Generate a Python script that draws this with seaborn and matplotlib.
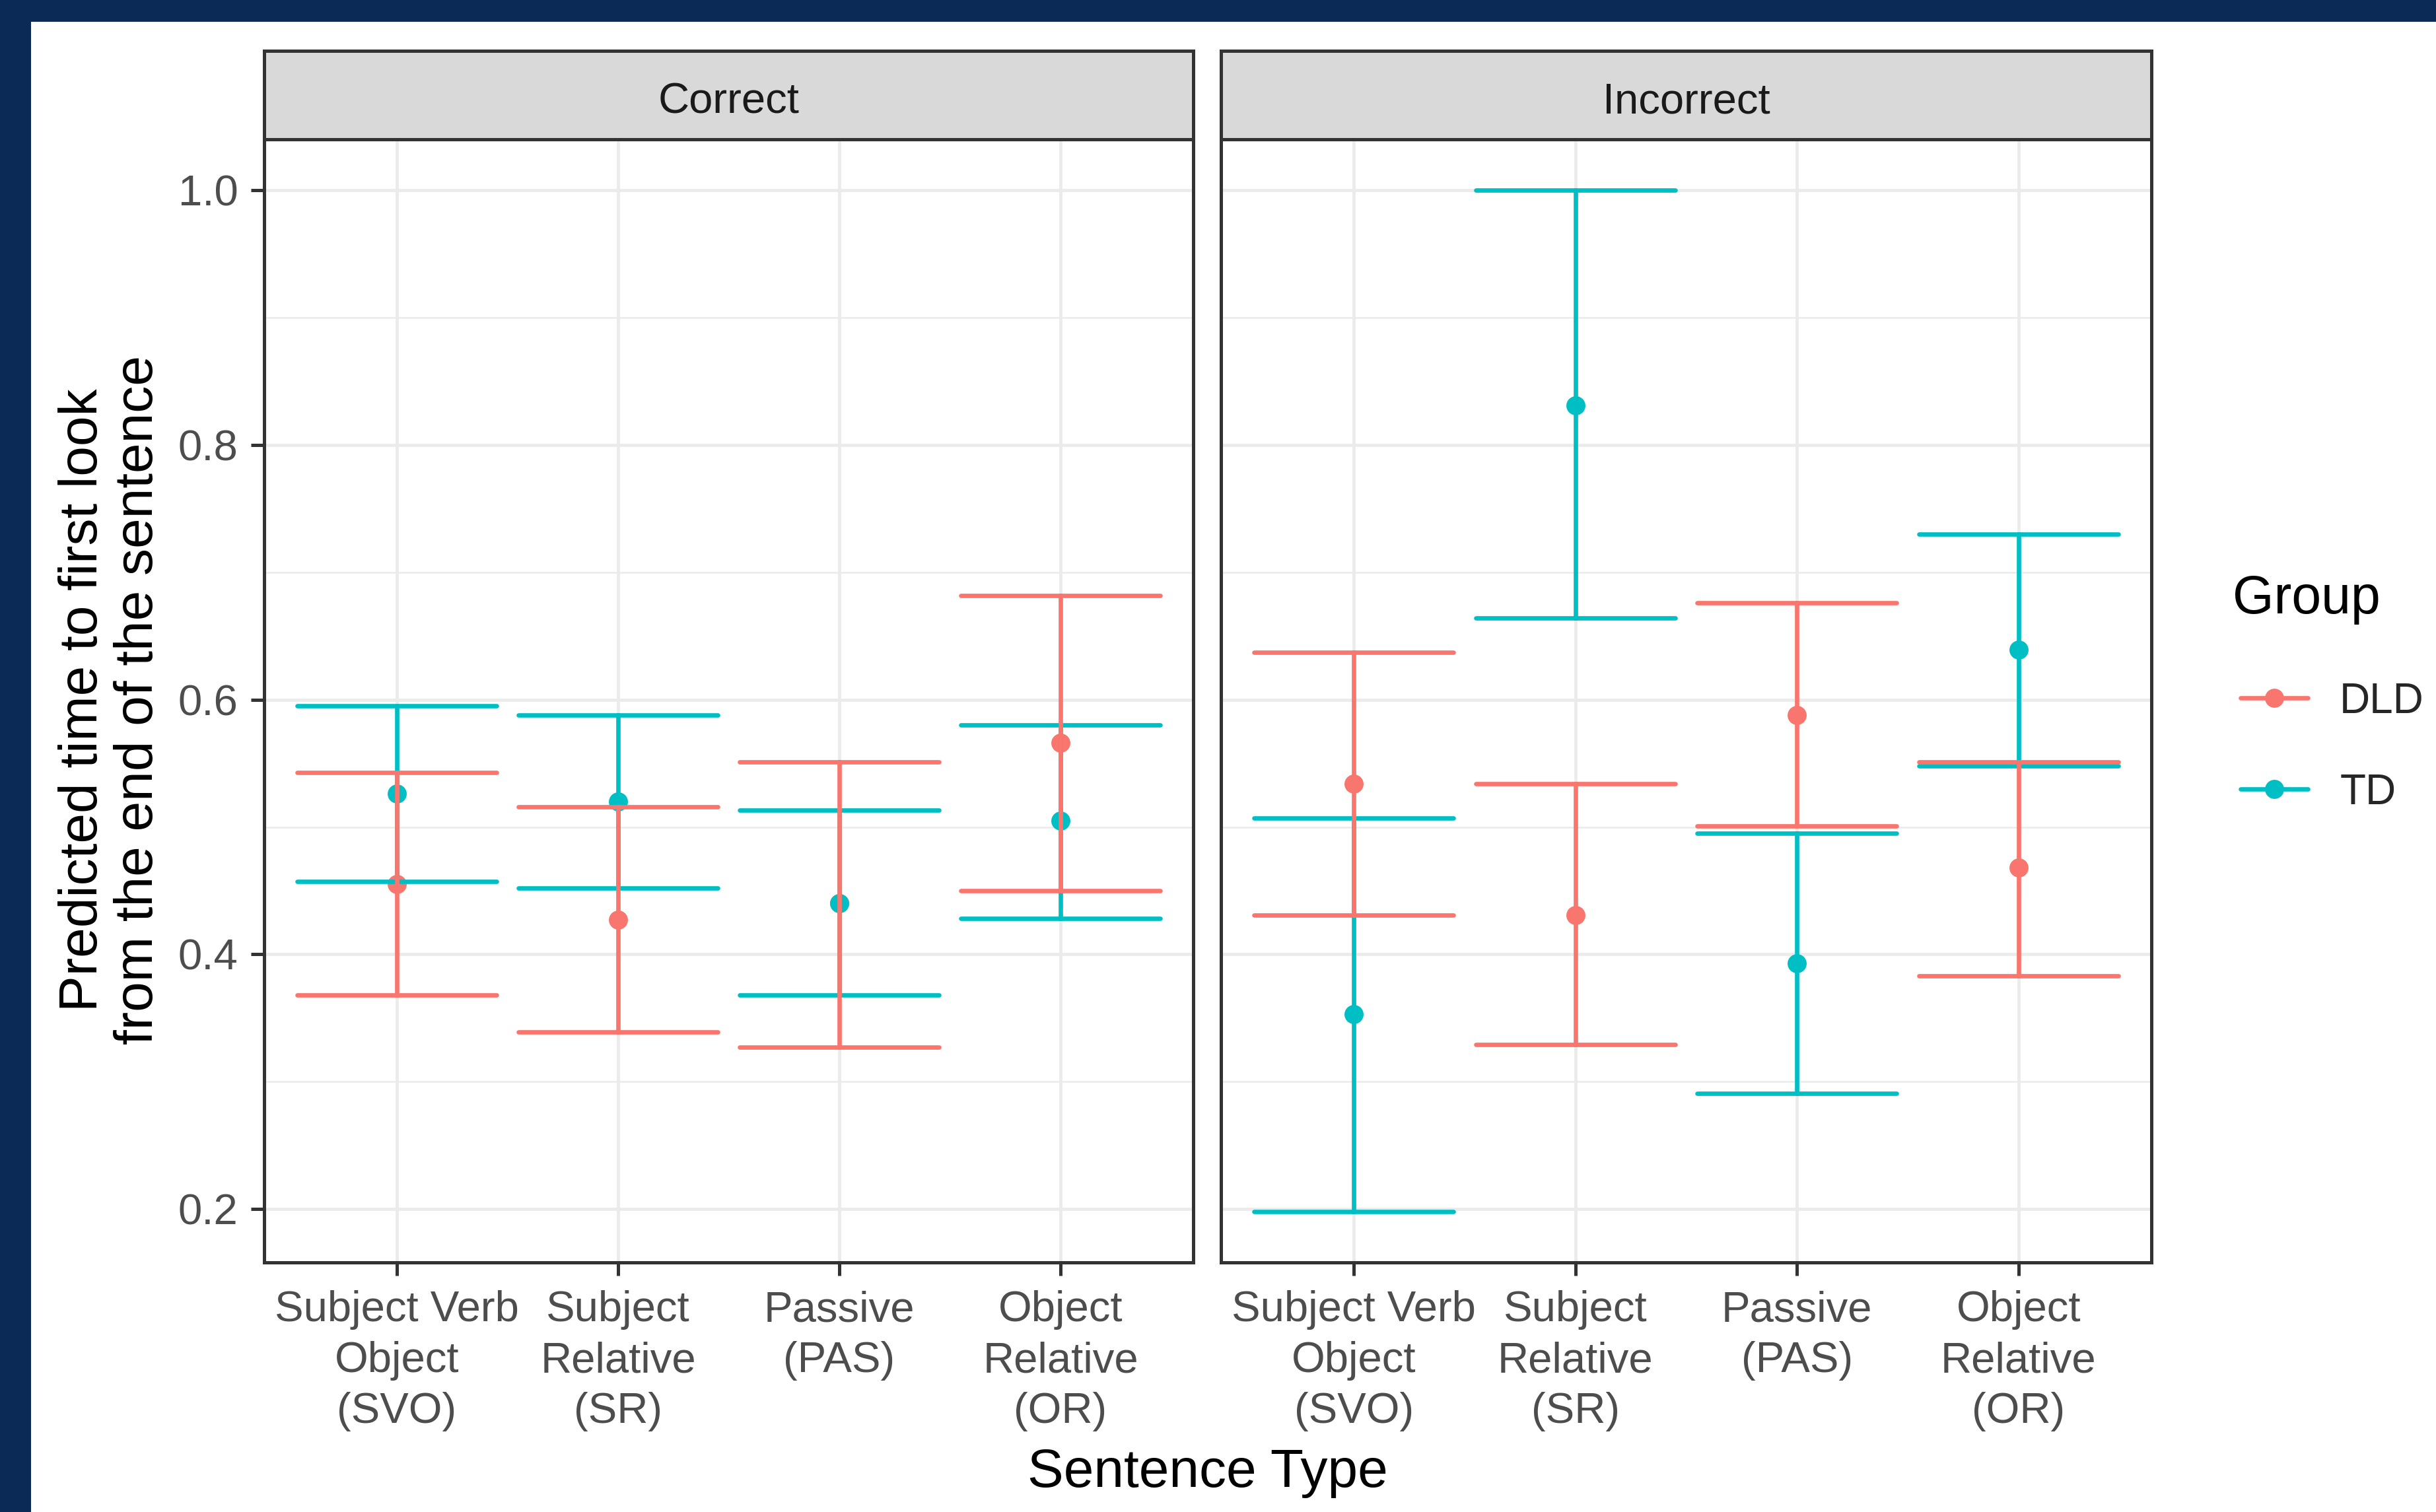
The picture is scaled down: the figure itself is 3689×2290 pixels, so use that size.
import numpy as np
import pandas as pd
import matplotlib
matplotlib.use("Agg")
import matplotlib.pyplot as plt
from matplotlib.lines import Line2D
from matplotlib.patches import Rectangle
import seaborn as sns

# ---------------- data ----------------
sentence_types = ["Subject Verb\nObject\n(SVO)", "Subject\nRelative\n(SR)",
                  "Passive\n(PAS)", "Object\nRelative\n(OR)"]
outcomes = ["Correct", "Incorrect"]
groups = ["DLD", "TD"]

dld_correct_est = [0.455, 0.427, 0.440, 0.566]
dld_correct_lo = [0.368, 0.339, 0.327, 0.450]
dld_correct_hi = [0.543, 0.516, 0.551, 0.682]
td_correct_est = [0.526, 0.520, 0.440, 0.505]
td_correct_lo = [0.457, 0.452, 0.368, 0.428]
td_correct_hi = [0.595, 0.588, 0.513, 0.580]

dld_incorrect_est = [0.534, 0.431, 0.588, 0.468]
dld_incorrect_lo = [0.431, 0.329, 0.501, 0.383]
dld_incorrect_hi = [0.637, 0.534, 0.676, 0.551]
td_incorrect_est = [0.353, 0.831, 0.393, 0.639]
td_incorrect_lo = [0.198, 0.664, 0.291, 0.548]
td_incorrect_hi = [0.507, 1.000, 0.495, 0.730]

y_ticks = [0.2, 0.4, 0.6, 0.8, 1.0]
y_tick_labels = ["0.2", "0.4", "0.6", "0.8", "1.0"]

series = {
    ("Correct", "DLD"): (dld_correct_est, dld_correct_lo, dld_correct_hi),
    ("Correct", "TD"): (td_correct_est, td_correct_lo, td_correct_hi),
    ("Incorrect", "DLD"): (dld_incorrect_est, dld_incorrect_lo, dld_incorrect_hi),
    ("Incorrect", "TD"): (td_incorrect_est, td_incorrect_lo, td_incorrect_hi),
}
rows = []
for (outc, grp), (est, lo, hi) in series.items():
    for s, e, l, h in zip(sentence_types, est, lo, hi):
        for v in (l, e, h):
            rows.append({"Outcome": outc, "Group": grp, "Sentence": s, "value": v})
df = pd.DataFrame(rows)

palette = {"DLD": "#F8766D", "TD": "#00BFC4"}

# ---------------- style ----------------
sns.set_style("white")
plt.rcParams["font.family"] = ["Liberation Sans", "DejaVu Sans"]

W, H = 3689, 2290
DPI = 200
fig = plt.figure(figsize=(W / DPI, H / DPI), dpi=DPI)
fig.patch.set_facecolor("white")

# navy frame (top and left)
fig.patches.append(Rectangle((0, 1 - 33 / H), 1, 33 / H, transform=fig.transFigure,
                             facecolor="#0B2A55", edgecolor="none", zorder=0))
fig.patches.append(Rectangle((0, 0), 47 / W, 1, transform=fig.transFigure,
                             facecolor="#0B2A55", edgecolor="none", zorder=0))

panel_x = [(400, 1807), (1849, 3258)]
py0, py1 = 1912, 211
strip_top = 77

border_c = "#333333"
border_lw = 1.8

for i, outc in enumerate(outcomes):
    x0, x1 = panel_x[i]
    ax = fig.add_axes([x0 / W, 1 - py0 / H, (x1 - x0) / W, (py0 - py1) / H])
    sub = df[df["Outcome"] == outc]
    sns.pointplot(data=sub, x="Sentence", y="value", hue="Group",
                  order=sentence_types, hue_order=groups, palette=palette,
                  estimator=np.median, errorbar=lambda v: (np.min(v), np.max(v)),
                  capsize=0.9, dodge=False, linestyle="none", marker="o",
                  markersize=10.4, markeredgewidth=0,
                  err_kws={"linewidth": 2.4}, legend=False, ax=ax)
    # layering: points below, TD bars, DLD bars on top
    for ln in ax.lines:
        c = matplotlib.colors.to_hex(ln.get_color()).upper()
        if ln.get_marker() not in (None, "None", "none", ""):
            ln.set_zorder(2.5)
        elif c == palette["TD"].upper():
            ln.set_zorder(3)
        else:
            ln.set_zorder(3.5)
    ax.set_xlim(-0.6, 3.6)
    ax.set_ylim(0.1580, 1.0401)
    ax.set_yticks(y_ticks)
    ax.set_yticks([0.3, 0.5, 0.7, 0.9], minor=True)
    ax.grid(True, which="major", color="#EBEBEB", linewidth=1.7, zorder=0)
    ax.grid(True, which="minor", axis="y", color="#EBEBEB", linewidth=0.9, zorder=0)
    ax.set_axisbelow(True)
    ax.set_xlabel("")
    ax.set_ylabel("")
    for sp in ax.spines.values():
        sp.set_visible(True)
        sp.set_color(border_c)
        sp.set_linewidth(border_lw)
        sp.set_zorder(5)
    ax.tick_params(axis="both", which="major", length=7.2, width=1.8, color=border_c,
                   labelcolor="#4D4D4D", labelsize=23.5, pad=7, bottom=True, left=(i == 0))
    ax.tick_params(axis="x", which="major", pad=8)
    ax.tick_params(axis="y", which="minor", length=0)
    ax.set_xticks(range(len(sentence_types)))
    ax.set_xticklabels(sentence_types, linespacing=1.36, ha="center", va="top")
    if i == 0:
        ax.set_yticklabels(y_tick_labels)
    else:
        ax.tick_params(axis="y", labelleft=False)

    # strip
    sax = fig.add_axes([x0 / W, 1 - py1 / H, (x1 - x0) / W, (py1 - strip_top) / H])
    sax.set_facecolor("#D9D9D9")
    sax.set_xticks([])
    sax.set_yticks([])
    for sp in sax.spines.values():
        sp.set_color(border_c)
        sp.set_linewidth(border_lw)
    sax.text(0.5, 0.42, outc, ha="center", va="center", fontsize=23.5,
             color="#1A1A1A", transform=sax.transAxes)

# axis titles
fig.text((400 + 3258) / 2 / W, 1 - 2231 / H, "Sentence Type", ha="center", va="center",
         fontsize=29.5, color="black")
fig.text(168 / W, 1 - 1060 / H,
         "Predicted time to first look\nfrom the end of the sentence",
         rotation=90, ha="center", va="center", fontsize=29.5, color="black",
         linespacing=1.15)

# legend (title drawn separately so it can sit slightly left of the keys)
handles = [Line2D([0], [0], color=palette[g], marker="o", markersize=10.4,
                  markeredgewidth=0, linewidth=2.4) for g in groups]
leg = fig.legend(handles, groups, title="Group", loc="upper left",
                 bbox_to_anchor=(3393 / W, 1 - 876 / H), frameon=False,
                 fontsize=23, title_fontsize=29, handlelength=1.6,
                 handletextpad=0.75, labelspacing=1.22, borderpad=0,
                 borderaxespad=0, alignment="left")
leg._legend_box.sep = 29
leg.get_title().set_alpha(0)
fig.text(3381 / W, 1 - 908 / H, "Group", ha="left", va="center", fontsize=29,
         color="black")

fig.savefig("out.png", dpi=DPI, facecolor="white")
